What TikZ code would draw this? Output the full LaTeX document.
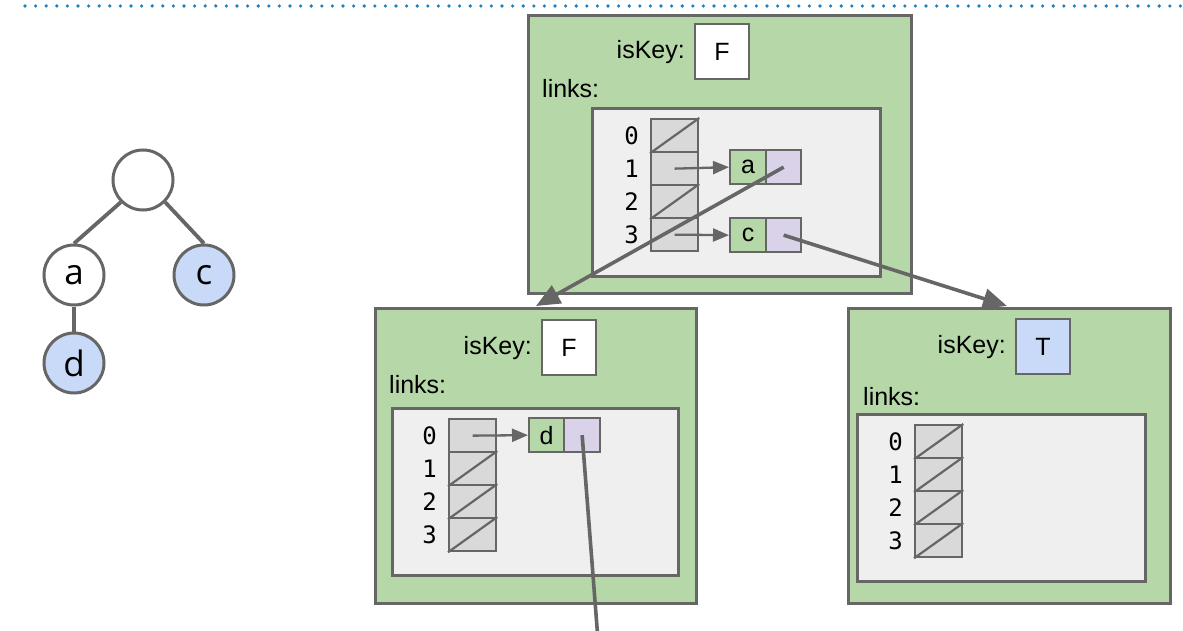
\documentclass[tikz,border=0pt]{standalone}
\usepackage{fontspec}
\setmainfont{Liberation Sans}
\newfontfamily\treefont{Open Sans}
\newfontfamily\idxfont{DejaVu Sans Mono}
\usetikzlibrary{arrows.meta}

\definecolor{edge}{HTML}{666666}
\definecolor{nodegreen}{HTML}{B6D7A8}
\definecolor{panelgrey}{HTML}{EFEFEF}
\definecolor{cellgrey}{HTML}{D9D9D9}
\definecolor{valpurple}{HTML}{D9D2E9}
\definecolor{keyblue}{HTML}{C9DAF8}
\definecolor{dotblue}{HTML}{1C7FC4}

\tikzset{
  outerbox/.style={draw=edge, line width=2.6pt, fill=nodegreen, inner sep=0pt, anchor=north west},
  panelbox/.style={draw=edge, line width=2.6pt, fill=panelgrey, inner sep=0pt, anchor=north west},
  cellbox/.style={draw=edge, line width=2.3pt, fill=cellgrey, inner sep=0pt, anchor=north west,
    minimum width=47pt, minimum height=33pt},
  flagbox/.style={draw=edge, line width=2.2pt, fill=white, inner sep=0pt, anchor=north west,
    minimum width=54pt, minimum height=55pt, font=\fontsize{25}{29}\selectfont},
  pairkey/.style={draw=edge, line width=2.3pt, fill=nodegreen, inner sep=0pt, anchor=north west,
    minimum width=36pt, minimum height=34pt, font=\fontsize{25}{29}\selectfont},
  pairval/.style={draw=edge, line width=2.3pt, fill=valpurple, inner sep=0pt, anchor=north west,
    minimum width=35pt, minimum height=34pt},
  lbl/.style={inner sep=0pt, font=\fontsize{25}{29}\selectfont},
  idx/.style={inner sep=0pt, font=\idxfont\fontsize{24}{27}\selectfont},
  nullslash/.style={draw=edge, line width=2.2pt},
  ptr/.style={draw=edge, line width=2.3pt, -{Triangle[length=16pt,width=13pt]}},
  bigptr/.style={draw=edge, line width=3.6pt, -{Triangle[length=24pt,width=20pt]}},
  treenode/.style={circle, draw=edge, line width=3pt, fill=white, minimum size=60pt, inner sep=0pt,
    font=\treefont\fontsize{35}{38}\selectfont},
  treeedge/.style={draw=edge, line width=3.8pt},
}

% four stacked cells of a links array: #1 prefix, (#2,#3) top-left corner
\newcommand\linkcells[3]{%
  \foreach \k in {0,1,2,3}{%
    \node[cellbox] (#1\k) at (#2,#3+33*\k) {};
    \node[idx] at ([xshift=-18.5pt]#1\k.west) {\k};
  }%
}
\newcommand\nullcell[1]{\draw[nullslash] (#1.south west) -- (#1.north east);}

\begin{document}
\begin{tikzpicture}[x=1pt,y=-1pt]
\useasboundingbox (0,0) rectangle (1183,631);

% dotted rule along the top
\draw[dotblue, line width=3.6pt, line cap=round, dash pattern=on 0pt off 10.6pt] (25,6) -- (1183,6);

% the trie drawn as a tree
\node[treenode] (root) at (143,180) {};
\node[treenode] (ta) at (74,275) {a};
\node[treenode, fill=keyblue] (tc) at (204,275) {c};
\node[treenode, fill=keyblue] (td) at (74,363) {d};
\draw[treeedge] (root.225) -- (ta.north);
\draw[treeedge] (root.315) -- (tc.north);
\draw[treeedge] (ta.south) -- (td.north);

% root node object
\node[outerbox, minimum width=383pt, minimum height=278pt] (T) at (527,14) {};
\node[flagbox] (Tkey) at (694,23) {F};
\node[lbl, anchor=east] at ([xshift=-9pt]Tkey.west) {isKey:};
\node[lbl, anchor=west] at (542,89) {links:};
\node[panelbox, minimum width=288pt, minimum height=168pt] (Tpanel) at (591,107) {};
\linkcells{t}{650}{118}
\nullcell{t0}
\nullcell{t2}
\node[pairkey] (pa) at (729,149) {a};
\node[pairval] (pav) at (765,149) {};
\node[pairkey] (pc) at (729,217) {c};
\node[pairval] (pcv) at (765,217) {};
\draw[ptr] (t1.center) -- (pa.west);
\draw[ptr] (t3.center) -- (pc.west);

% node reached through 'a'
\node[outerbox, minimum width=321pt, minimum height=295pt] (L) at (374,307) {};
\node[flagbox] (Lkey) at (541,319) {F};
\node[lbl, anchor=east] at ([xshift=-9pt]Lkey.west) {isKey:};
\node[lbl, anchor=west] at (389,385) {links:};
\node[panelbox, minimum width=286pt, minimum height=167pt] (Lpanel) at (391,407) {};
\linkcells{l}{448}{418}
\nullcell{l1}
\nullcell{l2}
\nullcell{l3}
\node[pairkey, minimum width=35pt] (pd) at (528,417) {d};
\node[pairval, minimum width=36pt] (pdv) at (563,417) {};
\draw[ptr] (l0.center) -- (pd.west);

% node reached through 'c'
\node[outerbox, minimum width=322pt, minimum height=295pt] (R) at (847,307) {};
\node[flagbox, fill=keyblue] (Rkey) at (1015,318) {T};
\node[lbl, anchor=east] at ([xshift=-9pt]Rkey.west) {isKey:};
\node[lbl, anchor=west] at (863,397) {links:};
\node[panelbox, minimum width=288pt, minimum height=167pt] (Rpanel) at (856,413) {};
\linkcells{r}{914}{424}
\nullcell{r0}
\nullcell{r1}
\nullcell{r2}
\nullcell{r3}

% child pointers
\coordinate (Lin) at (536,306);
\coordinate (Rin) at (1007,306);
\coordinate (Dout) at (598,640);
\draw[bigptr] (pav.center) -- (Lin);
\draw[bigptr] (pcv.center) -- (Rin);
\draw[draw=edge, line width=3.6pt] (pdv.center) -- (Dout);
\end{tikzpicture}
\end{document}
